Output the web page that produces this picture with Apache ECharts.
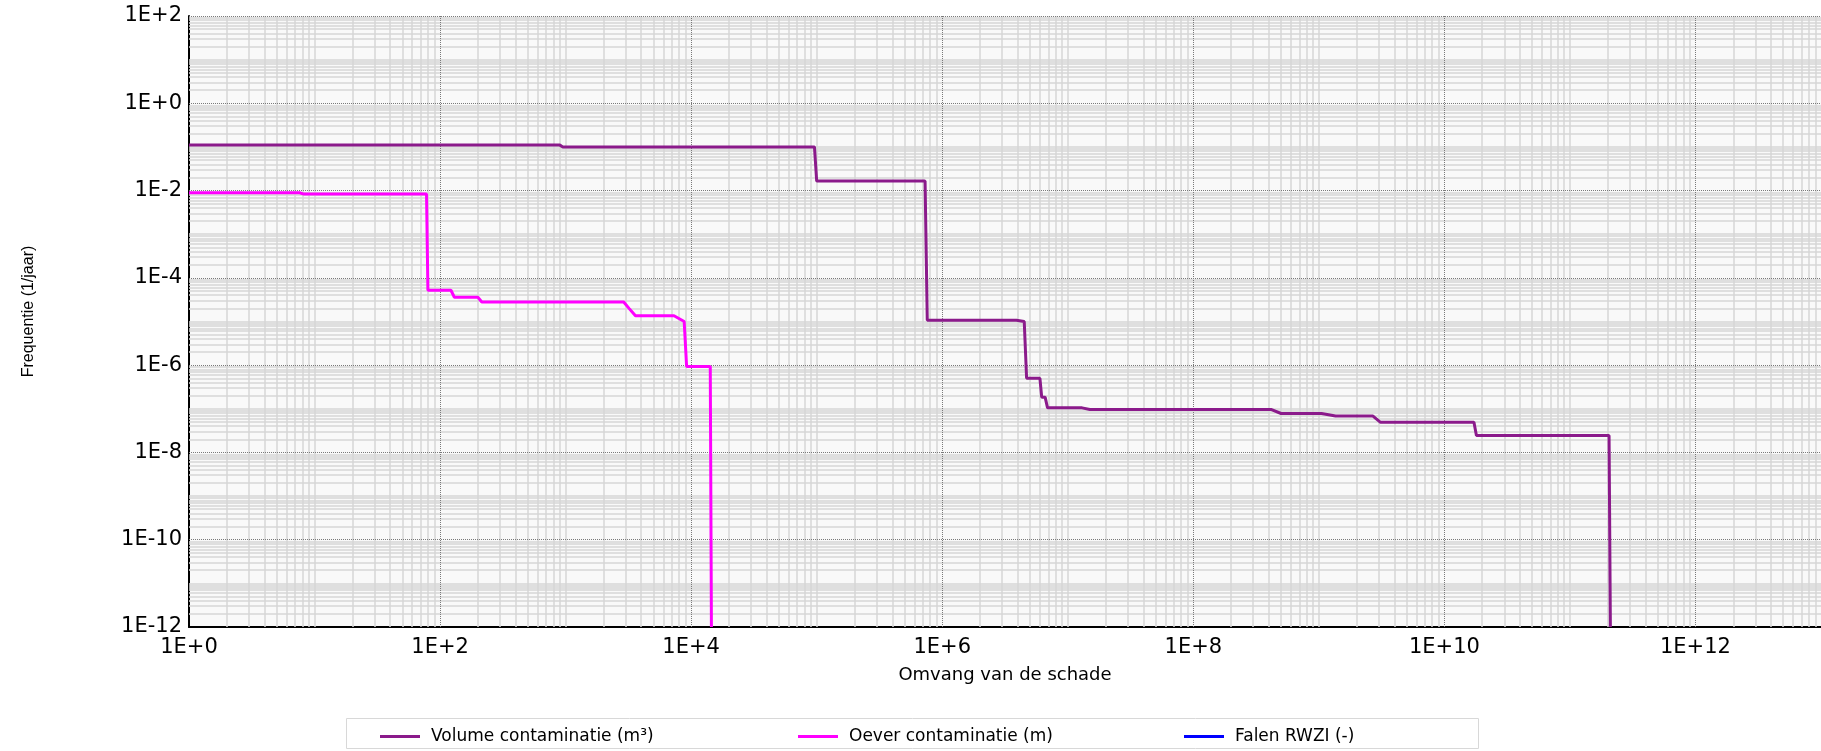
<!DOCTYPE html>
<html>
<head>
<meta charset="utf-8">
<script src="https://cdn.jsdelivr.net/npm/echarts@6/dist/echarts.min.js"></script>
<style>
html,body{margin:0;padding:0;background:#ffffff;}
#chart{width:1821px;height:751px;}
</style>
</head>
<body>
<div id="chart"></div>
<script>
// ---- data ----
const seriesNames = ['Volume contaminatie (m³)', 'Oever contaminatie (m)', 'Falen RWZI (-)'];

const volumeX = [1, 900, 950, 9.6e4, 1.0e5, 7.3e5, 7.6e5, 3.9e6, 4.5e6, 4.7e6, 6.0e6, 6.2e6, 6.6e6, 6.9e6,
                 1.3e7, 1.5e7, 4.2e8, 5.0e8, 1.05e9, 1.36e9, 2.7e9, 3.1e9, 1.72e10, 1.8e10, 2.05e11, 2.1e11];
const volumeY = [0.11, 0.11, 0.10, 0.10, 0.0165, 0.0165, 1.07e-5, 1.07e-5, 1.0e-5, 5e-7, 5e-7, 1.85e-7, 1.85e-7, 1.05e-7,
                 1.05e-7, 9.6e-8, 9.6e-8, 7.8e-8, 7.8e-8, 6.8e-8, 6.8e-8, 4.9e-8, 4.9e-8, 2.45e-8, 2.45e-8, 1e-12];

const oeverX = [1, 7.6, 8.2, 78, 80, 122, 130, 200, 215, 2.9e3, 3.2e3, 3.6e3, 7.3e3, 8.8e3, 9.2e3, 1.42e4, 1.45e4];
const oeverY = [0.0089, 0.0089, 0.0083, 0.0083, 5.2e-5, 5.2e-5, 3.6e-5, 3.6e-5, 2.8e-5, 2.8e-5, 2.0e-5, 1.35e-5, 1.35e-5,
                1.0e-5, 9.3e-7, 9.3e-7, 1e-12];

const falenX = [];
const falenY = [];

const xTickLabels = ['1E+0', '1E+2', '1E+4', '1E+6', '1E+8', '1E+10', '1E+12'];
const yTickLabels = ['1E-12', '1E-10', '1E-8', '1E-6', '1E-4', '1E-2', '1E+0', '1E+2'];

// ---- styles ----
const colors = ['#8B1A8B', '#FF00FF', '#0000FF'];
const legendLefts = [375, 793, 1179];
const FONT = 'DejaVu Sans';

function labelMap(arr) {
  const m = {};
  arr.forEach(function (s) { m[parseInt(s.slice(2), 10)] = s; });
  return m;
}
const xLab = labelMap(xTickLabels);
const yLab = labelMap(yTickLabels);
function fmt(map) {
  return function (v) {
    const e = Math.round(Math.log10(v));
    return map[e] !== undefined ? map[e] : '';
  };
}

// grid lines (decades and 2..9 sub-divisions)
const xMinor = [], xMajor = [], yMinor = [], yMajor = [];
for (let k = 0; k <= 12; k++) {
  for (let m = 1; m <= 9; m++) {
    const v = m * Math.pow(10, k);
    if (m === 1 && k % 2 === 0) { if (k > 0) xMajor.push(v); }
    else xMinor.push(v);
  }
}
for (let k = -12; k <= 1; k++) {
  for (let m = 1; m <= 9; m++) {
    const v = m * Math.pow(10, k);
    if (m === 1 && k % 2 === 0) { if (k > -12) yMajor.push(v); }
    else yMinor.push(v);
  }
}
yMajor.push(100);

function zip(xs, ys) { return xs.map(function (x, i) { return [x, ys[i]]; }); }

function gridSeries(name, xs, ys, lineStyle) {
  return {
    type: 'line', name: name, data: [], z: 1, silent: true,
    markLine: {
      silent: true, z: 1, precision: 20, symbol: ['none', 'none'], animation: false,
      label: {show: false}, emphasis: {disabled: true},
      lineStyle: lineStyle,
      data: xs.map(function (v) { return {xAxis: v}; })
        .concat(ys.map(function (v) { return {yAxis: v}; }))
    }
  };
}

const chart = echarts.init(document.getElementById('chart'), null, {renderer: 'canvas'});
const option = {
  animation: false,
  backgroundColor: '#ffffff',
  grid: {
    left: 189, top: 16, width: 1638, height: 611,
    show: true, backgroundColor: '#f9f9f9', borderWidth: 0
  },
  xAxis: {
    type: 'log', logBase: 10, min: 1, max: 1e13, interval: 2, splitNumber: 7,
    name: 'Omvang van de schade', nameLocation: 'middle', nameGap: 39,
    nameTextStyle: {fontFamily: FONT, fontSize: 18, color: '#000'},
    axisLine: {show: true, lineStyle: {color: '#000', width: 2}},
    axisTick: {show: false},
    splitLine: {show: false},
    axisLabel: {
      formatter: fmt(xLab), showMaxLabel: false, margin: 10,
      fontFamily: FONT, fontSize: 21, color: '#000'
    }
  },
  yAxis: {
    type: 'log', logBase: 10, min: 1e-12, max: 1e2, interval: 2, splitNumber: 7,
    name: 'Frequentie (1/jaar)', nameLocation: 'middle', nameGap: 152,
    nameTextStyle: {fontFamily: 'Liberation Sans', fontSize: 16, color: '#000', padding: [0, 0, 0, 20]},
    axisLine: {show: true, lineStyle: {color: '#000', width: 2}},
    axisTick: {show: false},
    splitLine: {show: false},
    axisLabel: {
      formatter: fmt(yLab), margin: 7,
      fontFamily: FONT, fontSize: 21, color: '#000'
    }
  },
  legend: seriesNames.map(function (n, i) {
    return {
      data: [{name: n, icon: 'rect'}],
      left: legendLefts[i], top: 723, itemWidth: 40, itemHeight: 3, itemGap: 0,
      selectedMode: false, z: 5,
      textStyle: {fontFamily: FONT, fontSize: 17, color: '#000', padding: [0, 0, 0, 6]}
    };
  }),
  graphic: [{
    type: 'rect', left: 346, top: 718, z: 0,
    shape: {width: 1132, height: 30},
    style: {fill: '#ffffff', stroke: '#d8d8d8', lineWidth: 1}
  }],
  series: [
    gridSeries('_gridMinor', xMinor, yMinor, {color: '#d6d6d6', width: 1.5, type: 'solid'}),
    gridSeries('_gridMajor', xMajor, yMajor, {color: '#7a7a7a', width: 1, type: 'dotted'}),
    {
      type: 'line', name: seriesNames[0], data: zip(volumeX, volumeY), z: 3,
      symbol: 'none', showSymbol: false, clip: true,
      lineStyle: {color: colors[0], width: 3}, itemStyle: {color: colors[0]}
    },
    {
      type: 'line', name: seriesNames[1], data: zip(oeverX, oeverY), z: 3,
      symbol: 'none', showSymbol: false, clip: true,
      lineStyle: {color: colors[1], width: 3}, itemStyle: {color: colors[1]}
    },
    {
      type: 'line', name: seriesNames[2], data: zip(falenX, falenY), z: 3,
      symbol: 'none', showSymbol: false, clip: true,
      lineStyle: {color: colors[2], width: 3}, itemStyle: {color: colors[2]}
    }
  ]
};
chart.setOption(option);
</script>
</body>
</html>
